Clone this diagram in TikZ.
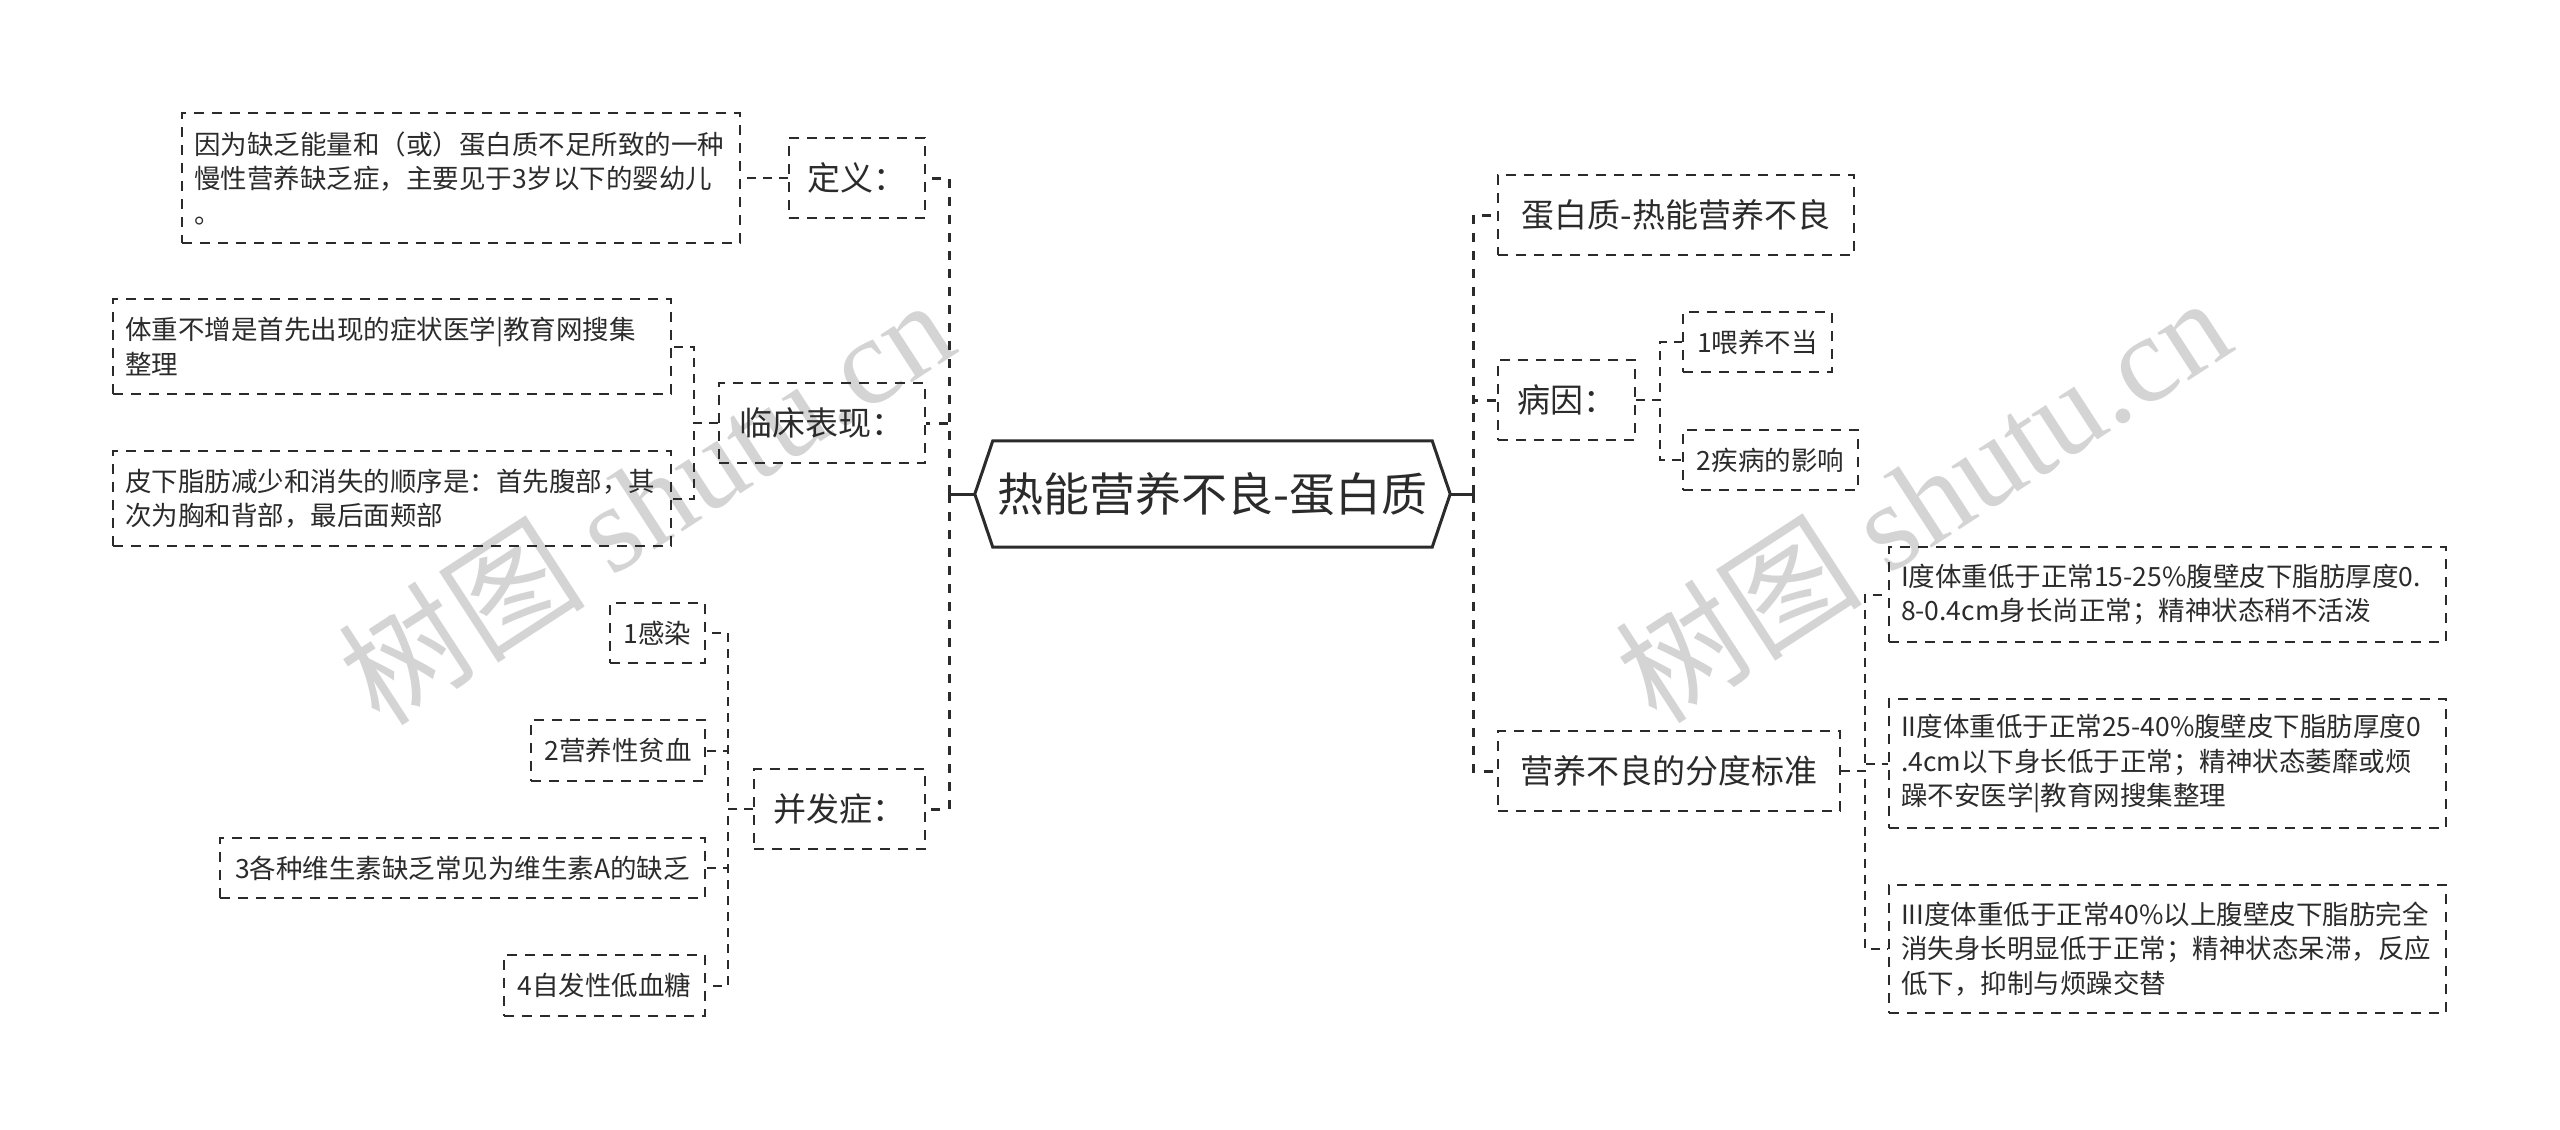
\documentclass[tikz,border=0pt]{standalone}
\usepackage{fontspec}
\setmainfont{Noto Sans CJK SC}
\newfontfamily\wmserif{Liberation Serif}
\definecolor{ink}{HTML}{2B2B2B}
\definecolor{wm}{RGB}{212,212,212}
\tikzset{
  box/.style={draw=ink, line width=2pt, dash pattern=on 10pt off 8pt, text=ink, inner sep=0pt, anchor=center},
  sz/.style n args={2}{minimum width=#1, minimum height=#2},
  lone/.style={box, font=\fontsize{33}{40}\selectfont},
  ltwo/.style={box, font=\fontsize{26.5}{34.5}\selectfont},
  ltwom/.style={ltwo, align=left, inner xsep=12pt},
  trunk/.style={draw=ink, line width=3pt, dash pattern=on 9pt off 9pt},
  twig/.style={draw=ink, line width=2pt, dash pattern=on 9pt off 7pt},
  wmark/.style={text=wm, rotate=33, font=\fontsize{124}{130}\selectfont, inner sep=0pt},
}
\begin{document}
\begin{tikzpicture}[x=1pt,y=-1pt]
\useasboundingbox (0,0) rectangle (2560,1130);
% watermarks
\node[wmark] (wmA) at (645,500) {树图 {\wmserif shutu.cn}};
\node[wmark] (wmB) at (1922,498) {树图 {\wmserif shutu.cn}};

% root
\node[font=\fontsize{46}{52}\selectfont, text=ink, minimum width=475pt, minimum height=106pt, inner sep=0pt] (root) at (1212.5,494) {热能营养不良-蛋白质};
\draw[ink, line width=3pt, line join=miter] (root.west) -- ([xshift=18pt]root.north west) -- ([xshift=-18pt]root.north east) -- (root.east) -- ([xshift=-18pt]root.south east) -- ([xshift=18pt]root.south west) -- cycle;

\coordinate (LJ) at (949,494);
\coordinate (RJ) at (1473,494);

% level 1 left
\node[lone, sz={136pt}{80pt}] (def) at (857,178) {定义：};
\node[lone, sz={206pt}{80pt}] (clin) at (822,423) {临床表现：};
\node[lone, sz={171pt}{80pt}] (comp) at (839.5,809) {并发症：};
% level 1 right
\node[lone, sz={356pt}{80pt}] (pem) at (1676,215) {蛋白质-热能营养不良};
\node[lone, sz={137pt}{80pt}] (cause) at (1566.5,400) {病因：};
\node[lone, sz={342pt}{80pt}] (grade) at (1669,771) {营养不良的分度标准};

% level 2 left
\node[ltwom, text width=534pt, minimum height=130pt] (deftext) at (461,178) {因为缺乏能量和（或）蛋白质不足所致的一种\\慢性营养缺乏症，主要见于3岁以下的婴幼儿\\。};
\node[ltwom, text width=534pt, minimum height=95pt] (clinA) at (392,346.5) {体重不增是首先出现的症状医学|教育网搜集\\整理};
\node[ltwom, text width=534pt, minimum height=95pt] (clinB) at (392,498.5) {皮下脂肪减少和消失的顺序是：首先腹部，其\\次为胸和背部，最后面颊部};
\node[ltwo, sz={95pt}{60pt}] (compA) at (657.5,633) {1感染};
\node[ltwo, sz={174pt}{61pt}] (compB) at (618,750.5) {2营养性贫血};
\node[ltwo, sz={485pt}{60pt}] (compC) at (462.5,868) {3各种维生素缺乏常见为维生素A的缺乏};
\node[ltwo, sz={201pt}{61pt}] (compD) at (604.5,985.5) {4自发性低血糖};
% level 2 right
\node[ltwo, sz={149pt}{60pt}] (causeA) at (1757.5,342) {1喂养不当};
\node[ltwo, sz={175pt}{60pt}] (causeB) at (1770.5,460) {2疾病的影响};
\node[ltwom, text width=533pt, minimum height=95pt] (gradeA) at (2167.5,594.5) {I度体重低于正常15-25\%腹壁皮下脂肪厚度0.\\8-0.4cm身长尚正常；精神状态稍不活泼};
\node[ltwom, text width=533pt, minimum height=129pt] (gradeB) at (2167.5,763.5) {II度体重低于正常25-40\%腹壁皮下脂肪厚度0\\.4cm以下身长低于正常；精神状态萎靡或烦\\躁不安医学|教育网搜集整理};
\node[ltwom, text width=533pt, minimum height=128pt] (gradeC) at (2167.5,949) {III度体重低于正常40\%以上腹壁皮下脂肪完全\\消失身长明显低于正常；精神状态呆滞，反应\\低下，抑制与烦躁交替};

% root connectors
\draw[ink, line width=3pt] (root.west) -- (LJ);
\draw[ink, line width=3pt] ([yshift=8pt]LJ) -- ([yshift=-8pt]LJ);
\draw[ink, line width=3pt] (root.east) -- (RJ);
\draw[ink, line width=3pt] ([yshift=8pt]RJ) -- ([yshift=-8pt]RJ);

\draw[trunk] (LJ) |- (def.east);
\draw[trunk] (LJ) |- (clin.east);
\draw[trunk] (LJ) |- (comp.east);
\draw[trunk] (RJ) |- (pem.west);
\draw[trunk] (RJ) |- (cause.west);
\draw[trunk] (RJ) |- (grade.west);

% twigs
\draw[twig] (def.west) -- (deftext.east);
\draw[twig] (clin.west) -- ++(-24,0) |- (clinA.east);
\draw[twig] (clin.west) -- ++(-24,0) |- (clinB.east);
\draw[twig] (comp.west) -- ++(-25,0) |- (compA.east);
\draw[twig] (comp.west) -- ++(-25,0) |- (compB.east);
\draw[twig] (comp.west) -- ++(-25,0) |- (compC.east);
\draw[twig] (comp.west) -- ++(-25,0) |- (compD.east);
\draw[twig] (cause.east) -- ++(24,0) |- (causeA.west);
\draw[twig] (cause.east) -- ++(24,0) |- (causeB.west);
\draw[twig] (grade.east) -- ++(24,0) |- (gradeA.west);
\draw[twig] (grade.east) -- ++(24,0) |- (gradeB.west);
\draw[twig] (grade.east) -- ++(24,0) |- (gradeC.west);
\end{tikzpicture}
\end{document}
